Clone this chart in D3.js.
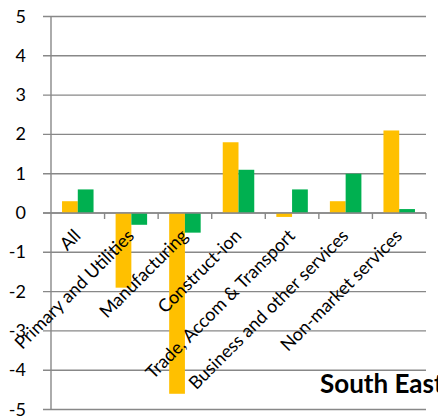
<!DOCTYPE html>
<html>
<head>
<meta charset="utf-8">
<script src="https://cdn.jsdelivr.net/npm/d3@7"></script>
<style>
  html, body { margin: 0; padding: 0; background: #fff; }
  svg { display: block; }
  text { font-family: Lato, "Open Sans", sans-serif; fill: #000; }
</style>
</head>
<body>
<svg id="chart" width="438" height="417"></svg>
<script>
// Sector categories
const categories = [
  "All",
  "Primary and Utilities",
  "Manufacturing",
  "Construct-ion",
  "Trade, Accom & Transport",
  "Business and other services",
  "Non-market services"
];
// Two series per sector
const seriesA = [0.3, -1.9, -4.6, 1.8, -0.1, 0.3, 2.1];
const seriesB = [0.6, -0.3, -0.5, 1.1, 0.6, 1.0, 0.1];
const yTicks = [5, 4, 3, 2, 1, 0, -1, -2, -3, -4, -5];
const regionTitle = "South East";

const colors = ["#FFC000", "#00B050"];
const gridColor = "#888888";
const svg = d3.select("#chart");

const plotLeft = 51, plotRight = 426, plotTop = 16.5, plotBottom = 409.5;

const y = d3.scaleLinear().domain([-5, 5]).range([plotBottom, plotTop]);
const x = d3.scaleBand().domain(categories).range([plotLeft, plotRight]).padding(0);
const inner = d3.scaleBand().domain([0, 1])
  .range([0, x.bandwidth()]).paddingInner(0).paddingOuter(0.7);

// Horizontal gridlines
svg.append("g")
  .selectAll("line")
  .data(yTicks)
  .join("line")
  .attr("x1", plotLeft - 8).attr("x2", plotRight)
  .attr("y1", d => y(d)).attr("y2", d => y(d))
  .attr("stroke", gridColor).attr("stroke-width", 1.4);

// Y axis labels
svg.append("g")
  .selectAll("text")
  .data(yTicks)
  .join("text")
  .attr("x", 26).attr("y", d => y(d) + 6)
  .attr("text-anchor", "end")
  .attr("font-size", 18)
  .text(d => d);

// Bars
const series = [seriesA, seriesB];
series.forEach((vals, si) => {
  svg.append("g")
    .selectAll("rect")
    .data(vals.map((v, i) => ({ v, c: categories[i] })))
    .join("rect")
    .attr("x", d => x(d.c) + inner(si))
    .attr("width", inner.bandwidth())
    .attr("y", d => y(Math.max(0, d.v)))
    .attr("height", d => Math.abs(y(d.v) - y(0)))
    .attr("fill", colors[si]);
});

// Vertical axis line
svg.append("line")
  .attr("x1", plotLeft).attr("x2", plotLeft)
  .attr("y1", plotTop).attr("y2", plotBottom)
  .attr("stroke", gridColor).attr("stroke-width", 1.4);

// Category tick marks along the zero line
const catEdges = categories.map(c => x(c) + x.bandwidth());
svg.append("g")
  .selectAll("line")
  .data(catEdges)
  .join("line")
  .attr("x1", d => d).attr("x2", d => d)
  .attr("y1", y(0)).attr("y2", y(0) + 6)
  .attr("stroke", gridColor).attr("stroke-width", 1.4);
svg.append("line")
  .attr("x1", plotLeft - 8).attr("x2", plotRight)
  .attr("y1", y(0)).attr("y2", y(0))
  .attr("stroke", gridColor).attr("stroke-width", 1.4);

// Rotated category labels
svg.append("g")
  .selectAll("text")
  .data(categories)
  .join("text")
  .attr("text-anchor", "end")
  .attr("font-size", 18)
  .attr("transform", c => `translate(${x(c) + x.bandwidth() / 2 + 4},${y(0) + 24}) rotate(-45)`)
  .text(c => c);

// Region title
svg.append("text")
  .attr("x", 320).attr("y", 393)
  .attr("font-size", 26)
  .attr("font-weight", "bold")
  .text(regionTitle);
</script>
</body>
</html>
